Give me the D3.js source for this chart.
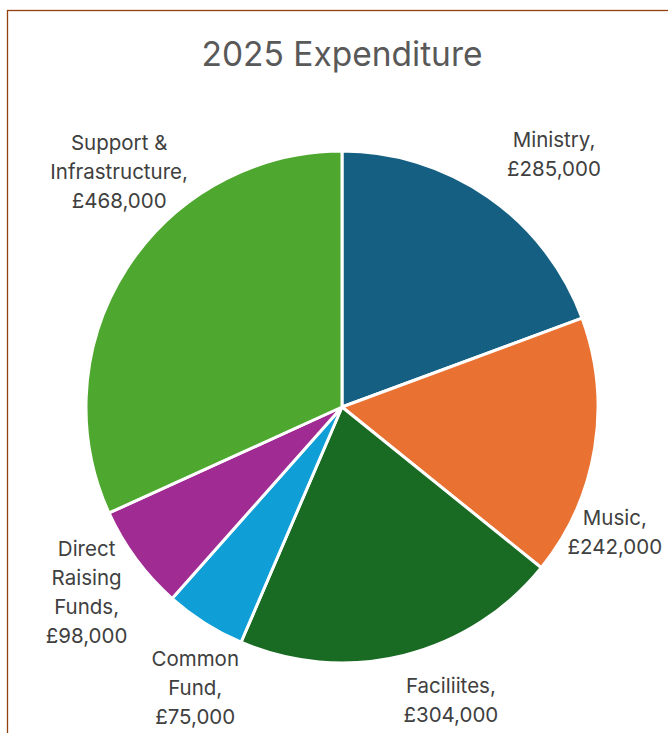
<!DOCTYPE html>
<html>
<head>
<meta charset="utf-8">
<title>2025 Expenditure</title>
<script src="https://cdn.jsdelivr.net/npm/d3@7"></script>
<style>
  body { margin: 0; background: #fff; }
  text { font-family: Inter, "Open Sans", sans-serif; }
</style>
</head>
<body>
<script>
// data
var categories = ["Ministry", "Music", "Faciliites", "Common Fund", "Direct Raising Funds", "Support & Infrastructure"];
var amounts = [285000, 242000, 304000, 75000, 98000, 468000];
var colours = ["#156082", "#E97132", "#196B24", "#0F9ED5", "#A02B93", "#4EA72E"];

// label nudges (px) away from the spot on the mid-angle ray
var labelNudge = [[32, 6], [-38, 75], [33, -12], [22, 15], [-2, -2], [42, -65]];

var width = 668, height = 733;
var cx = 342, cy = 407, radius = 256, labelRadius = 315;

var svg = d3.select("body").append("svg")
    .attr("width", width)
    .attr("height", height);

svg.append("rect")
    .attr("width", width).attr("height", height)
    .attr("fill", "#fff");

// chart area border (only top and left show in the crop)
svg.append("rect")
    .attr("x", 7.5).attr("y", 10.5)
    .attr("width", width + 20).attr("height", height + 20)
    .attr("fill", "none")
    .attr("stroke", "#93400f")
    .attr("stroke-width", 1.3);

svg.append("text")
    .attr("x", cx).attr("y", 66)
    .attr("text-anchor", "middle")
    .attr("fill", "#595959")
    .attr("font-size", 33.5)
    .text("2025 Expenditure");

var slices = categories.map(function(c, i) {
  return {name: c, value: amounts[i], colour: colours[i], i: i};
});

var pie = d3.pie().sort(null).value(function(d) { return d.value; });
var arc = d3.arc().innerRadius(0).outerRadius(radius);
var labelArc = d3.arc().innerRadius(labelRadius).outerRadius(labelRadius);

var g = svg.append("g").attr("transform", "translate(" + cx + "," + cy + ")");

var arcs = pie(slices);

g.selectAll("path.slice")
  .data(arcs)
  .enter()
  .append("path")
  .attr("class", "slice")
  .attr("d", arc)
  .attr("fill", function(d) { return d.data.colour; })
  .attr("stroke", "#fff")
  .attr("stroke-width", 3)
  .attr("stroke-linejoin", "round");

var fmt = d3.format(",");
var lineH = 29, fontSize = 20.5, wrapW = 106;

var labels = g.selectAll("text.lbl")
  .data(arcs)
  .enter()
  .append("text")
  .attr("class", "lbl")
  .attr("text-anchor", "middle")
  .attr("font-size", fontSize)
  .attr("fill", "#404040");

labels.each(function(d) {
  var t = d3.select(this);
  // greedy wrap of the category name, value on its own line
  var words = (d.data.name + ",").split(" ");
  var lines = [], cur = "";
  var probe = t.append("tspan");
  words.forEach(function(w) {
    var tryLine = cur ? cur + " " + w : w;
    probe.text(tryLine);
    if (cur && probe.node().getComputedTextLength() > wrapW) {
      lines.push(cur);
      cur = w;
    } else {
      cur = tryLine;
    }
  });
  lines.push(cur);
  probe.remove();
  lines.push("£" + fmt(d.data.value));

  var c = labelArc.centroid(d);
  var x = c[0] + labelNudge[d.data.i][0];
  var y = c[1] + labelNudge[d.data.i][1];
  var y0 = y - (lines.length - 1) * lineH / 2 + 7;
  lines.forEach(function(l, k) {
    t.append("tspan")
      .attr("x", x)
      .attr("y", y0 + k * lineH)
      .text(l);
  });
});
</script>
</body>
</html>
